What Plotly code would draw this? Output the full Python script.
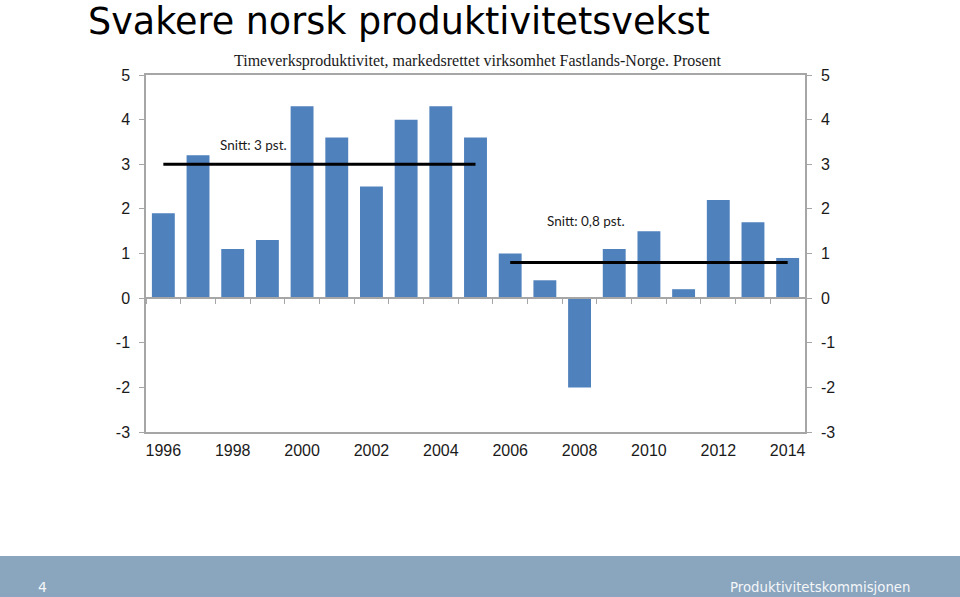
import plotly.graph_objects as go

# ---- data ----
years = list(range(1996, 2015))
growth = [1.9, 3.2, 1.1, 1.3, 4.3, 3.6, 2.5, 4.0, 4.3, 3.6,
          1.0, 0.4, -2.0, 1.1, 1.5, 0.2, 2.2, 1.7, 0.9]
period_start = [1996, 2006]
period_end = [2005, 2014]
period_mean = [3.0, 0.8]
mean_labels = ["Snitt: 3 pst.", "Snitt: 0,8 pst."]
y_ticks = [-3, -2, -1, 0, 1, 2, 3, 4, 5]
y_tick_text = ["-3", "-2", "-1", "0", "1", "2", "3", "4", "5"]
x_tick_years = [1996, 1998, 2000, 2002, 2004, 2006, 2008, 2010, 2012, 2014]
boundaries = [y - 0.5 for y in years] + [years[-1] + 0.5]

title = "Svakere norsk produktivitetsvekst"
subtitle = "Timeverksproduktivitet, markedsrettet virksomhet Fastlands-Norge. Prosent"
footer_left = "4"
footer_right = "Produktivitetskommisjonen"

BAR = "#4F81BD"
GRID = "#A6A6A6"
TXT = "#1a1a1a"

fig = go.Figure()
fig.add_trace(go.Bar(x=years, y=growth, marker=dict(color=BAR, line=dict(width=0)),
                     xaxis="x", yaxis="y", showlegend=False, hoverinfo="x+y"))
for s, e, m in zip(period_start, period_end, period_mean):
    fig.add_trace(go.Scatter(x=[s, e], y=[m, m], mode="lines",
                             line=dict(color="black", width=3),
                             xaxis="x2", yaxis="y2", showlegend=False))

W, H = 960, 597
L, R, T, B = 146, 155, 75, 165
pw, ph = W - L - R, H - T - B


def px(xp):
    return (xp - L) / pw


def py(yp):
    return (H - B - yp) / ph


xr = [years[0] - 0.5, years[-1] + 0.5]
yr = [y_ticks[0], y_ticks[-1]]
zero_pos = (0 - yr[0]) / (yr[1] - yr[0])
tick_font = dict(family="Liberation Sans, Arial", size=16, color=TXT)

fig.update_layout(
    width=W, height=H,
    margin=dict(l=L, r=R, t=T, b=B, autoexpand=False),
    paper_bgcolor="white", plot_bgcolor="white",
    bargap=0.34,
    xaxis=dict(range=xr, tickvals=x_tick_years, ticktext=[str(v) for v in x_tick_years],
               showline=True, linecolor=GRID, linewidth=1.5, mirror=True,
               ticks="", showgrid=False, zeroline=False,
               tickfont=tick_font, ticklabelstandoff=3, fixedrange=True),
    xaxis2=dict(range=xr, matches="x", overlaying="x", anchor="free", position=zero_pos,
                tickvals=boundaries, ticks="outside", ticklen=5, tickcolor=GRID,
                showticklabels=False, showline=True, linecolor=GRID, linewidth=1.5,
                showgrid=False, zeroline=False),
    yaxis=dict(range=yr, tickvals=y_ticks, ticktext=y_tick_text, ticks="outside",
               ticklen=5, tickcolor=GRID,
               showline=True, linecolor=GRID, linewidth=1.5, showgrid=False, zeroline=False,
               tickfont=tick_font, ticklabelstandoff=6),
    yaxis2=dict(range=yr, matches="y", overlaying="y", side="right", anchor="x",
                tickvals=y_ticks, ticktext=y_tick_text, ticks="outside", ticklen=5,
                tickcolor=GRID,
                showline=True, linecolor=GRID, linewidth=1.5, showgrid=False, zeroline=False,
                tickfont=tick_font, ticklabelstandoff=6),
    shapes=[dict(type="rect", xref="paper", yref="paper", x0=px(-10), x1=px(W + 10),
                 y0=py(H + 10), y1=py(556), fillcolor="#8AA5BE", line=dict(width=0),
                 layer="below")],
)

annos = [
    dict(text=title, xref="paper", yref="paper", x=px(86), y=py(21), xanchor="left",
         yanchor="middle", showarrow=False,
         font=dict(family="DejaVu Sans", size=36.5, color="black")),
    dict(text=subtitle, xref="paper", yref="paper", x=px(478), y=py(61), xanchor="center",
         yanchor="middle", showarrow=False,
         font=dict(family="Liberation Serif, Times New Roman", size=16, color=TXT)),
    dict(text=footer_left, xref="paper", yref="paper", x=px(42), y=py(587), xanchor="center",
         yanchor="middle", showarrow=False,
         font=dict(family="DejaVu Sans", size=14, color="#F4F6F8")),
    dict(text=footer_right, xref="paper", yref="paper", x=px(912), y=py(587), xanchor="right",
         yanchor="middle", showarrow=False,
         font=dict(family="DejaVu Sans", size=13.3, color="#F4F6F8")),
]
label_pos = [(1998.6, 3.43), (2008.2, 1.73)]
for (lx, ly), txt in zip(label_pos, mean_labels):
    annos.append(dict(text=txt, x=lx, y=ly, xref="x", yref="y", showarrow=False,
                      xanchor="center", yanchor="middle",
                      font=dict(family="Lato, Open Sans", size=13.5, color=TXT)))
fig.update_layout(annotations=annos)

fig.write_html("out.html", config={"displayModeBar": False})
